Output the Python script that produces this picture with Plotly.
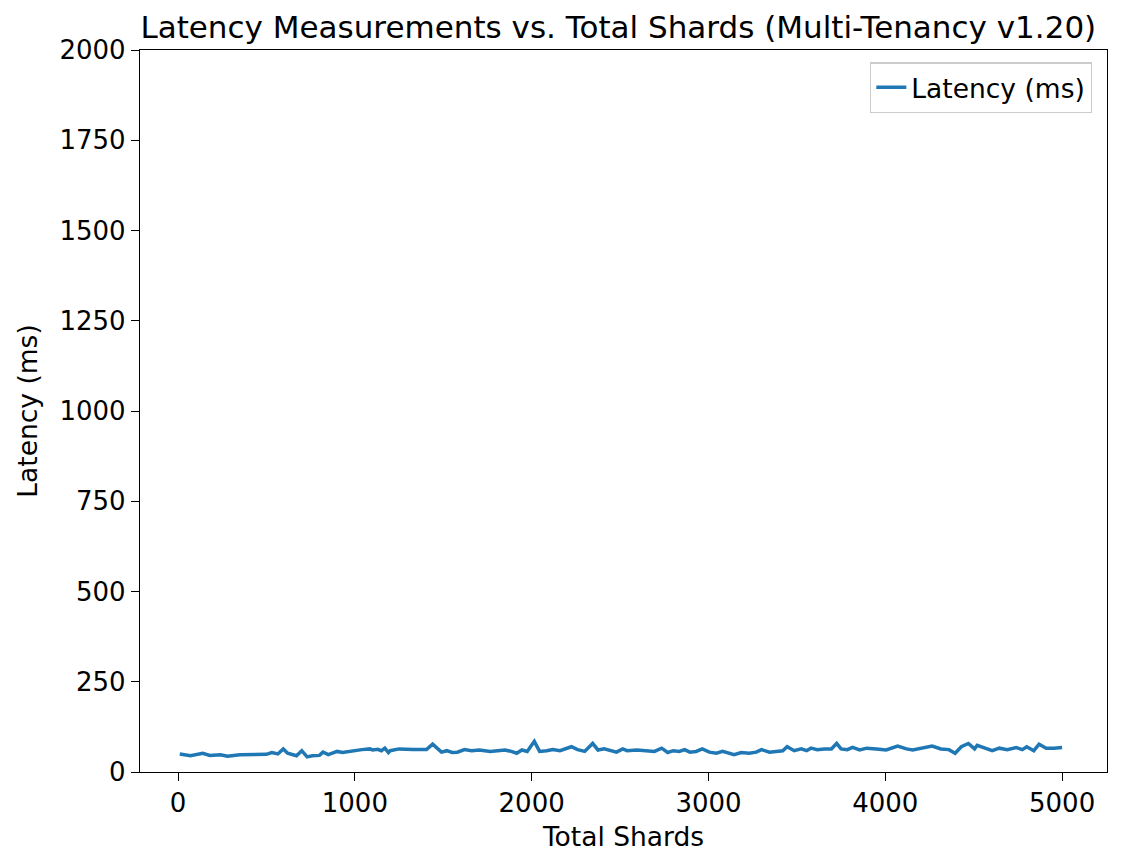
import plotly.graph_objects as go

shards = [10, 70, 140, 180, 240, 280, 350, 420, 500, 530, 565, 595, 620, 670, 700, 730, 760,
          800, 820, 850, 900, 930, 990, 1040, 1085, 1100, 1130, 1150, 1170, 1190, 1200,
          1250, 1330, 1405, 1440, 1490, 1520, 1550, 1580, 1620, 1660, 1705, 1765, 1800,
          1850, 1885, 1915, 1945, 1975, 2015, 2045, 2085, 2120, 2160, 2185, 2225, 2260,
          2300, 2345, 2375, 2410, 2440, 2480, 2515, 2540, 2595, 2650, 2695, 2735, 2770,
          2800, 2835, 2865, 2895, 2930, 2965, 3005, 3045, 3080, 3120, 3145, 3185, 3230,
          3270, 3300, 3345, 3385, 3420, 3445, 3485, 3525, 3555, 3580, 3615, 3655, 3695,
          3725, 3750, 3785, 3815, 3855, 3895, 3950, 4005, 4070, 4120, 4155, 4210, 4265,
          4315, 4360, 4395, 4430, 4470, 4505, 4520, 4560, 4605, 4645, 4690, 4740, 4775,
          4800, 4840, 4870, 4910, 4955, 5000]
latency = [50, 45, 52, 46, 48, 44, 48, 48, 49, 54, 50, 64, 52, 45, 59, 42, 45,
           46, 55, 48, 57, 54, 59, 62, 64, 61, 63, 59, 66, 54, 59,
           64, 62, 62, 77, 55, 59, 54, 55, 62, 59, 61, 57, 59,
           61, 57, 52, 61, 57, 85, 57, 59, 62, 59, 64, 70, 62,
           57, 79, 61, 64, 61, 55, 64, 59, 61, 59, 57, 66, 54,
           59, 57, 62, 55, 57, 64, 55, 52, 57, 52, 48, 54, 52,
           55, 62, 55, 57, 59, 70, 59, 64, 59, 66, 62, 64, 64,
           79, 64, 62, 68, 61, 66, 64, 61, 72, 64, 61, 66, 72,
           64, 62, 52, 70, 79, 64, 74, 66, 59, 66, 62, 68, 62,
           70, 59, 77, 66, 66, 68]

FONT = "DejaVu Sans"
axis_common = dict(showline=True, linecolor="black", linewidth=1.3, mirror=True,
                   ticks="outside", ticklen=8, tickwidth=1.3, tickcolor="black",
                   showgrid=False, zeroline=False,
                   tickfont=dict(family=FONT, size=26, color="black"))

fig = go.Figure()
fig.add_trace(go.Scatter(x=shards, y=latency, mode="lines", name="Latency (ms)",
                         line=dict(color="#1f77b4", width=3.5)))

fig.update_layout(
    width=1126, height=854,
    margin=dict(l=132, r=27, t=42, b=90),
    paper_bgcolor="white", plot_bgcolor="white",
    title=dict(text="Latency Measurements vs. Total Shards (Multi-Tenancy v1.20)",
               x=0.542, xanchor="center", y=0.978, yanchor="middle",
               font=dict(family=FONT, size=31, color="black")),
    xaxis=dict(range=[-215, 5254], tickvals=[0, 1000, 2000, 3000, 4000, 5000],
               title=dict(text="Total Shards", standoff=10,
                          font=dict(family=FONT, size=26.5, color="black")),
               **axis_common),
    yaxis=dict(range=[0, 2000], tickvals=[0, 250, 500, 750, 1000, 1250, 1500, 1750, 2000],
               title=dict(text="Latency (ms)", standoff=14,
                          font=dict(family=FONT, size=26.5, color="black")),
               **axis_common),
    legend=dict(x=0.9845, xanchor="right", y=0.983, yanchor="top",
                bordercolor="#cccccc", borderwidth=1.3, bgcolor="white",
                font=dict(family=FONT, size=26.5, color="black")),
    showlegend=True,
)

fig.write_html("out.html")
